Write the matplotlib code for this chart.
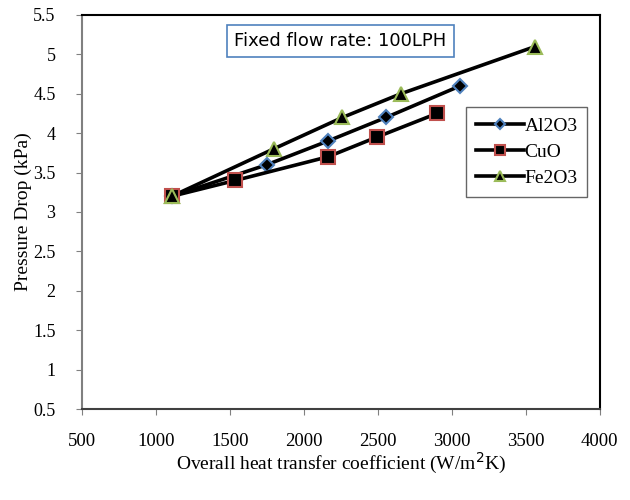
import matplotlib
matplotlib.use('Agg')
import matplotlib.pyplot as plt

# Overall heat transfer coefficient (W/m2K) vs pressure drop (kPa)
al2o3_u = [1108, 1750, 2162, 2556, 3056]
al2o3_dp = [3.2, 3.6, 3.9, 4.2, 4.6]

cuo_u = [1108, 1536, 2162, 2493, 2899]
cuo_dp = [3.2, 3.4, 3.7, 3.95, 4.25]

fe2o3_u = [1108, 1795, 2261, 2655, 3563]
fe2o3_dp = [3.2, 3.8, 4.2, 4.5, 5.1]

x_ticks = [500, 1000, 1500, 2000, 2500, 3000, 3500, 4000]
y_ticks = [0.5, 1, 1.5, 2, 2.5, 3, 3.5, 4, 4.5, 5, 5.5]

serif = 'Liberation Serif'

fig = plt.figure(figsize=(6.3, 5.0), dpi=100)
ax = fig.add_axes([0.13, 0.182, 0.822, 0.788])

# draw triangles first so the squares/diamonds sit on top
ax.plot(fe2o3_u, fe2o3_dp, color='black', lw=2.6, marker='^', markersize=10,
        markerfacecolor='black', markeredgecolor='#9BBB59', markeredgewidth=1.5,
        label='Fe2O3', zorder=3)
ax.plot(al2o3_u, al2o3_dp, color='black', lw=2.6, marker='D', markersize=7,
        markerfacecolor='black', markeredgecolor='#4F81BD', markeredgewidth=1.5,
        label='Al2O3', zorder=4)
ax.plot(cuo_u, cuo_dp, color='black', lw=2.6, marker='s', markersize=10,
        markerfacecolor='black', markeredgecolor='#C0504D', markeredgewidth=1.5,
        label='CuO', zorder=5)
# first triangle on top at the shared start point
ax.plot(fe2o3_u[:1], fe2o3_dp[:1], ls='none', marker='^', markersize=10,
        markerfacecolor='black', markeredgecolor='#9BBB59', markeredgewidth=1.5,
        zorder=6)

ax.set_xlim(500, 4000)
ax.set_ylim(0.5, 5.5)
ax.set_xticks(x_ticks)
ax.set_yticks(y_ticks)
ax.set_xticklabels([str(t) for t in x_ticks], fontfamily=serif, fontsize=13.5)
ax.set_yticklabels([f'{t:g}' for t in y_ticks], fontfamily=serif, fontsize=13)
ax.tick_params(axis='both', direction='out', length=4, color='#808080')
ax.tick_params(axis='x', pad=13)
ax.tick_params(axis='y', pad=15)

for side in ['top', 'right']:
    ax.spines[side].set_color('black')
    ax.spines[side].set_linewidth(1.5)
ax.spines['left'].set_color('#808080')
ax.spines['left'].set_linewidth(1.5)
ax.spines['bottom'].set_color('#404040')
ax.spines['bottom'].set_linewidth(1.5)

ax.set_xlabel('Overall heat transfer coefficient (W/m$^2$K)', fontfamily=serif,
              fontsize=14, labelpad=1)
ax.set_ylabel('Pressure Drop (kPa)', fontfamily=serif, fontsize=14, labelpad=1)

# legend in Al2O3, CuO, Fe2O3 order
handles, labels = ax.get_legend_handles_labels()
order = [labels.index(n) for n in ['Al2O3', 'CuO', 'Fe2O3']]
leg = ax.legend([handles[i] for i in order], [labels[i] for i in order],
                loc='upper left', bbox_to_anchor=(0.742, 0.766), borderaxespad=0,
                prop={'family': serif, 'size': 14}, frameon=True,
                fancybox=False, edgecolor='#404040', handlelength=2.5,
                handletextpad=0.0, labelspacing=0.45, borderpad=0.5,
                markerscale=0.7)
leg.get_frame().set_linewidth(1.0)

ax.text(0.499, 0.934, 'Fixed flow rate: 100LPH', transform=ax.transAxes,
        ha='center', va='center', fontsize=13, family='DejaVu Sans',
        bbox=dict(boxstyle='square,pad=0.4', facecolor='white',
                  edgecolor='#4F81BD', linewidth=1.2))

fig.savefig('out.png', dpi=100)
